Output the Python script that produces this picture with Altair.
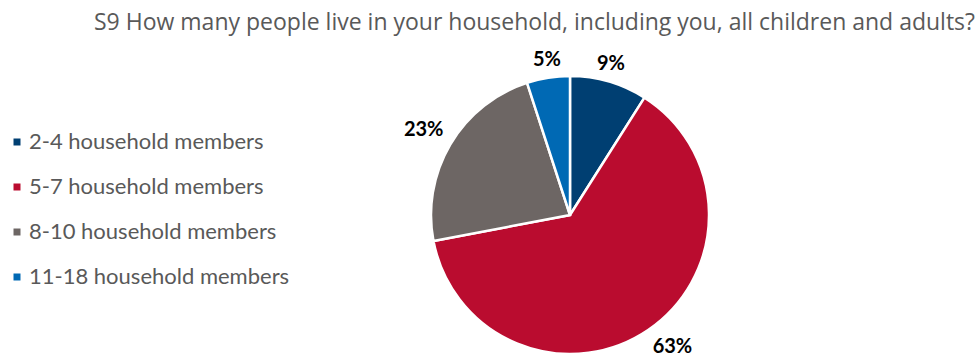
import altair as alt
import pandas as pd

categories = ["2-4 household members", "5-7 household members", "8-10 household members", "11-18 household members"]
values = [9, 63, 23, 5]
labels = ["9%", "63%", "23%", "5%"]
colors = ["#003F72", "#BA0C2F", "#6D6664", "#0069B4"]

df = pd.DataFrame({"cat": categories, "pct": values, "label": labels, "order": list(range(len(values)))})

base = alt.Chart(df).transform_window(
    cum="sum(pct)", sort=[alt.SortField("order")], frame=[None, 0]
).transform_calculate(
    mid="PI * (2 * datum.cum - datum.pct) / 100"
).encode(
    theta=alt.Theta("pct:Q", stack=True),
    order=alt.Order("order:Q"),
)

arcs = base.mark_arc(outerRadius=139, stroke="white", strokeWidth=2.5).encode(
    x=alt.value(570),
    y=alt.value(215),
    color=alt.Color(
        "cat:N",
        scale=alt.Scale(domain=categories, range=colors),
        sort=categories,
        legend=alt.Legend(
            title=None,
            orient="none",
            legendX=6,
            legendY=131,
            symbolType="square",
            symbolSize=49,
            symbolStrokeWidth=0,
            labelFont="Lato",
            labelFontSize=22,
            labelColor="#595959",
            rowPadding=23,
            labelOffset=1,
            labelLimit=400,
        ),
    ),
)

texts = base.mark_text(
    radius=147,
    font="Lato",
    fontWeight="bold",
    fontSize=20,
    color="#000000",
    align=alt.expr("sin(datum.mid) > 0.3 ? 'left' : (sin(datum.mid) < -0.3 ? 'right' : 'center')"),
    baseline=alt.expr("cos(datum.mid) > 0 ? 'bottom' : 'top'"),
).encode(
    x=alt.value(570),
    y=alt.value(215),
    text="label:N",
)

chart = alt.layer(arcs, texts).properties(
    width=979,
    height=356,
    padding=0,
    autosize=alt.AutoSizeParams(type="none"),
    title=alt.TitleParams(
        "S9 How many people live in your household, including you, all children and adults?",
        anchor="end",
        font="Open Sans",
        fontSize=23,
        fontWeight="normal",
        color="#595959",
        offset=-35,
        dx=-4,
    ),
).configure_view(stroke=None)

chart.save("out.html", embed_options={"renderer": "svg", "actions": False})
